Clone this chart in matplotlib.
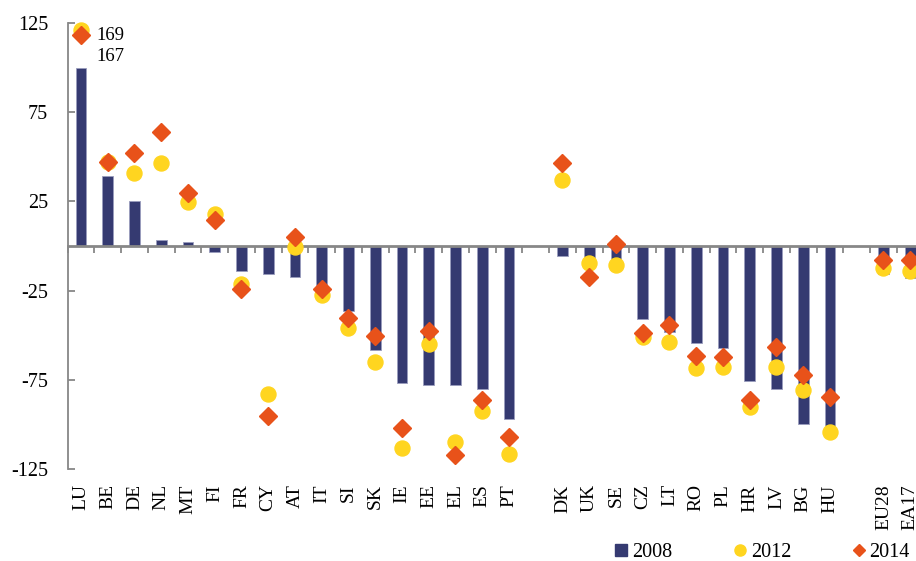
import numpy as np
import matplotlib
matplotlib.use("Agg")
import matplotlib.pyplot as plt
from matplotlib.lines import Line2D

plt.rcParams['font.family'] = ['Liberation Serif', 'DejaVu Serif']

nan = np.nan
categories = ['LU', 'BE', 'DE', 'NL', 'MT', 'FI', 'FR', 'CY', 'AT', 'IT', 'SI', 'SK',
              'IE', 'EE', 'EL', 'ES', 'PT', '', 'DK', 'UK', 'SE', 'CZ', 'LT', 'RO',
              'PL', 'HR', 'LV', 'BG', 'HU', '', 'EU28', 'EA17']
v2008 = [100, 39, 25, 3.4, 2, -3.4, -13.8, -15.9, -17.6, -22, -36.4, -58.1,
         -76.6, -77.7, -77.7, -80.3, -97.2, nan, -5.7, -7, -8, -40.9, -48, -54.2,
         -57.4, -75.5, -80, -99.8, -102, nan, -15.9, -18.1]
v2012 = [169, 47, 41, 46.3, 24.5, 17.8, -21.5, -83.1, -0.4, -27.3, -45.8, -65.2,
         -113, -54.9, -109.7, -92.5, -116.4, nan, 37.2, -9.7, -10.6, -50.8, -53.6, -68.6,
         -67.6, -90, -67.6, -80.7, -104.3, nan, -12.5, -14]
v2014 = [167, 47.2, 52, 63.9, 29.9, 14.6, -24.1, -95.3, 5.2, -24.3, -40.4, -50.4,
         -102, -47.5, -117.2, -86.3, -107, nan, 46.5, -17.4, 1.1, -48.6, -44.5, -61.7,
         -62.4, -86.3, -56.4, -72.3, -84.4, nan, -7.8, -7.8]
series_names = ['2008', '2012', '2014']
yticks = [125, 75, 25, -25, -75, -125]

NAVY = '#353a71'
YELLOW = '#ffd520'
ORANGE = '#e8521a'
GRAY = '#878787'

fig = plt.figure(figsize=(9.16, 5.61), dpi=100)
ax = fig.add_axes([67.6 / 916, 1 - 469 / 561, 856 / 916, 446 / 561])

x = np.arange(len(categories))
a08 = np.array(v2008, float)
a12 = np.array(v2012, float)
a14 = np.array(v2014, float)

ax.bar(x, a08, width=0.4, color=NAVY, edgecolor='#9a9dbd', linewidth=0.6, zorder=1)

# off-scale values (LU) are drawn at the top of the scale and labelled
show12 = np.minimum(a12, 121)
show14 = np.minimum(a14, 118)
ax.plot(x, show12, linestyle='none', marker='o', ms=10.8, color=YELLOW,
        mec=YELLOW, zorder=4, clip_on=False)
ax.plot(x, show14, linestyle='none', marker='D', ms=9.2, color=ORANGE,
        mec=ORANGE, zorder=5, clip_on=False)

for i in range(len(categories)):
    if a12[i] > 125:
        ax.annotate(f'{a12[i]:.0f}', xy=(i, 118), xytext=(11, 0), textcoords='offset points',
                    fontsize=13.5, va='center', ha='left')
    if a14[i] > 125:
        ax.annotate(f'{a14[i]:.0f}', xy=(i, 106.5), xytext=(11, 0), textcoords='offset points',
                    fontsize=13.5, va='center', ha='left')

ax.set_xlim(-0.5, len(categories) - 0.5)
ax.set_ylim(-125, 125)

for s in ['top', 'right']:
    ax.spines[s].set_visible(False)
ax.spines['left'].set_color(GRAY)
ax.spines['left'].set_linewidth(1.3)
ax.spines['bottom'].set_position(('data', 0))
ax.spines['bottom'].set_color(GRAY)
ax.spines['bottom'].set_linewidth(2)
ax.spines['bottom'].set_zorder(3)

ax.set_yticks(yticks)
ax.set_yticklabels([str(t) for t in yticks])
ax.tick_params(axis='y', direction='in', length=5, width=1.3, color=GRAY,
               labelsize=14.5, pad=14)
ax.set_xticks(np.arange(len(categories) + 1) - 0.5)
ax.tick_params(axis='x', direction='out', length=5, width=1.3, color=GRAY,
               labelbottom=False)

for i, c in enumerate(categories):
    if c:
        ax.annotate(c, xy=(i, 0), xycoords=('data', 'axes fraction'),
                    xytext=(0, -11), textcoords='offset points',
                    rotation=90, ha='center', va='top', fontsize=14,
                    annotation_clip=False)

handles = [
    Line2D([], [], linestyle='none', marker='s', ms=8, color=NAVY),
    Line2D([], [], linestyle='none', marker='o', ms=8, color=YELLOW),
    Line2D([], [], linestyle='none', marker='D', ms=6, color=ORANGE),
]
fig.legend(handles, series_names, loc='center right', bbox_to_anchor=(910 / 916, 1 - 552 / 561),
           ncol=3, frameon=False, fontsize=14.5, handlelength=0.7, handletextpad=0.2,
           columnspacing=3.0, borderpad=0, borderaxespad=0)

fig.savefig('out.png', dpi=100)
